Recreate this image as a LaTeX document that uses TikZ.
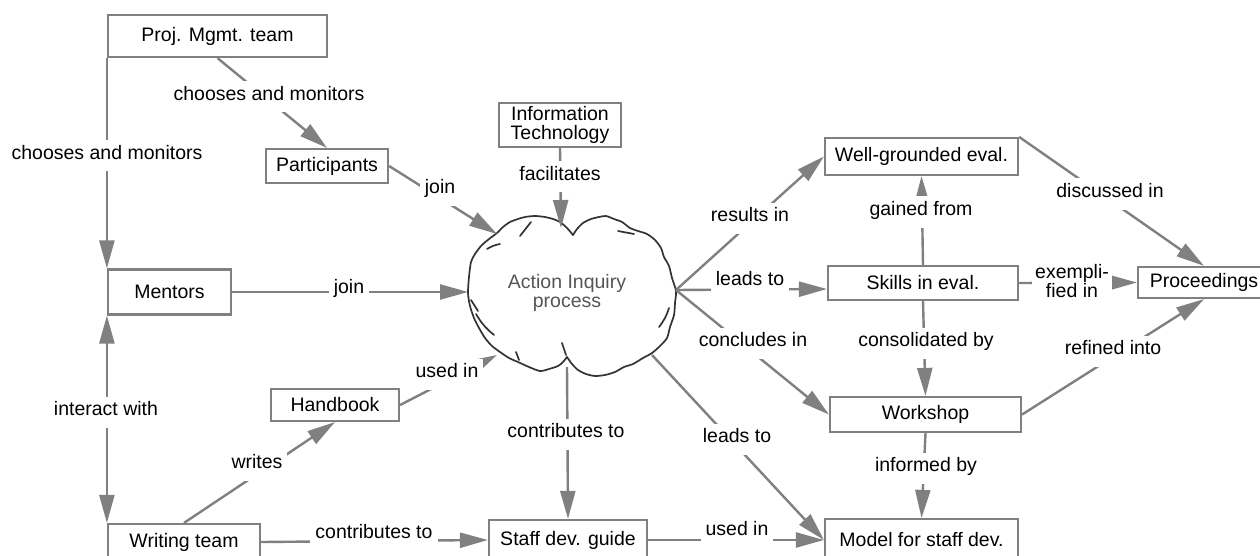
\documentclass[tikz,border=0pt]{standalone}
\usepackage{fontspec}
\setmainfont{Liberation Sans}
\usetikzlibrary{arrows.meta,calc}
\definecolor{lg}{RGB}{128,128,128}
\definecolor{cl}{RGB}{51,51,51}
\definecolor{ct}{RGB}{85,85,85}
\begin{document}
\begin{tikzpicture}[x=1pt,y=-1pt,
  concept/.style={draw=lg, line width=2.2pt, fill=white, inner sep=0pt, font=\fontsize{19.5}{19}\selectfont, align=center},
  lbl/.style={fill=white, inner xsep=5pt, inner ysep=3pt, text height=16pt, text depth=9pt, yshift=-3pt, font=\fontsize{19.5}{19}\selectfont},
  lbltwo/.style={fill=white, inner sep=3pt, align=center, font=\fontsize{19.5}{17}\selectfont},
  conn/.style={draw=lg, line width=2.4pt},
  arr/.style={conn, -{Triangle[length=28pt,width=15pt]}},
  sketch/.style={draw=cl, line width=1.7pt, line cap=round, line join=round}]
\clip (0,0) rectangle (1260,556);
\fill[white] (0,0) rectangle (1260,556);

% cloud outline (two lobes meeting at sharp dips)
\draw[sketch] plot[smooth, tension=0.45] coordinates {
  (573,235) (577,229) (583,223) (591,219) (599,217) (606,216) (614,219) (622,222)
  (630,228) (638,231) (647,234) (655,240) (661,248) (664,257) (669,266) (672,278)
  (676,291) (675,303) (674,315) (670,327) (667,338) (660,346) (652,353) (643,358)
  (633,364) (624,367) (615,372) (605,375) (595,376) (586,374) (578,370) (572,364) (567,357)};
\draw[sketch] plot[smooth, tension=0.45] coordinates {
  (567,357) (563,362) (558,366) (549,369) (540,371) (529,367) (518,362) (509,358)
  (500,352) (492,346) (485,338) (479,328) (474,318) (470,306) (468,293) (469,277)
  (471,262) (475,254) (481,246) (489,239) (497,233) (503,227) (510,222) (518,219)
  (525,217) (535,216) (545,217) (553,219) (560,222) (567,228) (573,235)};
\draw[sketch] (520,236) -- (531,222);
\draw[sketch] (487,249) to[bend left=10] (500,244);
\draw[sketch] (471,300) -- (478,311);
\draw[sketch] (476,314) to[bend right=10] (494,335);
\draw[sketch] (659,327) to[bend right=10] (669,308);
\draw[sketch] (516,352) -- (519,360);
\draw[sketch] (562,343) -- (566,355);
\draw[sketch] (618,231) -- (634,234);
\node[text=ct, align=center, font=\fontsize{19.5}{19}\selectfont] (cloud) at (567,293) {Action Inquiry\\process};
\coordinate (cT) at (561,228);
\coordinate (cPL) at (497,234);
\coordinate (cL) at (468,292);
\coordinate (cBL) at (497,355);
\coordinate (cB) at (567,367);
\coordinate (cBR) at (652,355);
\coordinate (cR) at (676,290);

% concepts
\node[concept, minimum width=219pt, minimum height=42pt] (proj) at (217.5,36) {Proj. Mgmt. team};
\node[concept, minimum width=122pt, minimum height=34pt] (part) at (327,166) {Participants};
\node[concept, minimum width=122pt, minimum height=44pt] (it) at (560,125) {Information\\Technology};
\node[concept, minimum width=123pt, minimum height=45pt] (mentors) at (169.5,292) {Mentors};
\node[concept, minimum width=128pt, minimum height=32pt] (handbook) at (335,405) {Handbook};
\node[concept, minimum width=152pt, minimum height=36pt] (writing) at (184,542) {Writing team};
\node[concept, minimum width=158pt, minimum height=40pt] (staff) at (568,540) {Staff dev. guide};
\node[concept, minimum width=193pt, minimum height=42pt] (model) at (921.5,540) {Model for staff dev.};
\node[concept, minimum width=191pt, minimum height=35pt] (workshop) at (925.5,414.5) {Workshop};
\node[concept, minimum width=190pt, minimum height=34pt] (skills) at (923,283) {Skills in eval.};
\node[concept, minimum width=193pt, minimum height=37pt] (wg) at (921.5,156.5) {Well-grounded eval.};
\node[concept, minimum width=132pt, minimum height=31pt] (proc) at (1204,282.5) {Proceedings};

% connectors
\draw[arr] (proj.south west) -- (mentors.north west);
\draw[arr] (proj.south) -- (part.north);
\draw[arr] (part.east) -- (cPL);
\draw[arr] (it.south) -- (cT);
\draw[arr] (mentors.east) -- (cL);
\draw[arr] (handbook.east) -- (cBL);
\draw[arr] (writing.north) -- (handbook.south);
\draw[arr] (writing.east) -- (staff.west);
\draw[arr] (cB) -- (staff.north);
\draw[arr] (cBR) -- (model.west);
\draw[arr] (staff.east) -- (model.west);
\draw[arr] (cR) -- (wg.west);
\draw[arr] (cR) -- ($(skills.west)+(0,6)$);
\draw[arr] (cR) -- (workshop.west);
\draw[arr] (skills.north) -- (wg.south);
\draw[arr] (wg.north east) -- (proc.north);
\draw[arr] (skills.east) -- (proc.west);
\draw[arr] (skills.south) -- (workshop.north);
\draw[arr] (workshop.south) -- (model.north);
\draw[arr] (workshop.east) -- (proc.south);
\draw[arr, {Triangle[length=28pt,width=15pt]}-{Triangle[length=28pt,width=15pt]}] (mentors.south west) -- (writing.north west);

% linking phrases
\node[lbl] (l1) at (107,153) {chooses and monitors};
\node[lbl] (l2) at (269,94) {chooses and monitors};
\node[lbl] (l3) at (440,187) {join};
\node[lbl] (l4) at (560,174) {facilitates};
\node[lbl] (l5) at (349,287) {join};
\node[lbl] (l6) at (447,371) {used in};
\node[lbl] (l7) at (257,462) {writes};
\node[lbl] (l8) at (374,532) {contributes to};
\node[lbl] (l9) at (566,431) {contributes to};
\node[lbl] (l10) at (737,436) {leads to};
\node[lbl] (l11) at (737,529) {used in};
\node[lbl] (l12) at (750,215) {results in};
\node[lbl] (l13) at (750,279) {leads to};
\node[lbl] (l14) at (753,340) {concludes in};
\node[lbl] (l15) at (921,209) {gained from};
\node[lbl] (l16) at (1110,191) {discussed in};
\node[lbltwo] (l17) at (1072,281) {exempli-\\fied in};
\node[lbl] (l18) at (926,340) {consolidated by};
\node[lbl] (l19) at (926,465) {informed by};
\node[lbl] (l20) at (1113,348) {refined into};
\node[lbl] (l21) at (106,409) {interact with};
\end{tikzpicture}
\end{document}
